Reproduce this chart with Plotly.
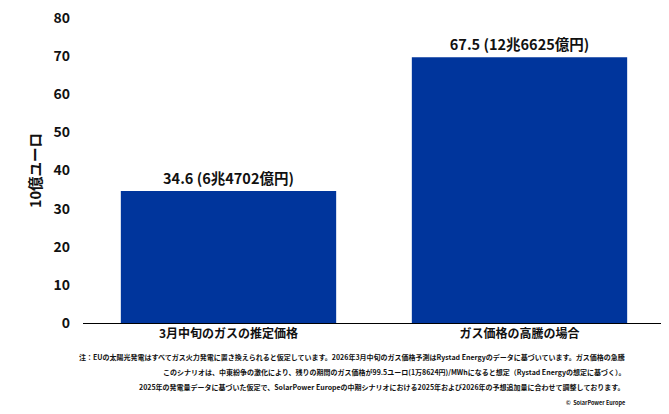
import plotly.graph_objects as go

categories = ["3月中旬のガスの推定価格", "ガス価格の高騰の場合"]
# bar heights (second bar is drawn up to ~69.7 on the axis)
values = [34.6, 69.7]
bar_labels = ["34.6 (6兆4702億円)", "67.5 (12兆6625億円)"]
y_ticks = [0, 10, 20, 30, 40, 50, 60, 70, 80]
y_title = "10億ユーロ"
note_lines = [
    "注：EUの太陽光発電はすべてガス火力発電に置き換えられると仮定しています。2026年3月中旬のガス価格予測はRystad Energyのデータに基づいています。ガス価格の急騰",
    "このシナリオは、中東紛争の激化により、残りの期間のガス価格が99.5ユーロ(1万8624円)/MWhになると想定（Rystad Energyの想定に基づく）。",
    "2025年の発電量データに基づいた仮定で、SolarPower Europeの中期シナリオにおける2025年および2026年の予想追加量に合わせて調整しております。",
]
credit = "©  SolarPower Europe"

FONT = "Noto Sans CJK JP"
BLUE = "#00359C"

# plot area in figure pixels
L, R, T, B = 75, 657, 10, 315
W, H = R - L, B - T

fig = go.Figure()
fig.add_trace(go.Bar(
    x=categories,
    y=values,
    text=bar_labels,
    textposition="outside",
    textfont=dict(family=FONT, size=14.5, color="#111111", weight="bold"),
    marker=dict(color=BLUE, line=dict(width=0)),
    cliponaxis=False,
    hoverinfo="skip",
))

annotations = []
ys = [349, 364, 379]
for line, yp in zip(note_lines, ys):
    annotations.append(dict(
        text=line, xref="paper", yref="paper",
        x=(619 - L) / W, y=(B - yp) / H,
        xanchor="right", yanchor="middle", showarrow=False,
        font=dict(family=FONT, size=7, color="#111111", weight="bold"),
    ))
annotations.append(dict(
    text=credit, xref="paper", yref="paper",
    x=(619 - L) / W, y=(B - 395) / H,
    xanchor="right", yanchor="middle", showarrow=False,
    font=dict(family=FONT, size=5.5, color="#111111", weight="bold"),
))

fig.update_layout(
    width=669, height=414,
    margin=dict(l=L, r=669 - R, t=T, b=414 - B, autoexpand=False),
    paper_bgcolor="white", plot_bgcolor="white",
    showlegend=False,
    bargap=0.26,
    font=dict(family=FONT, color="#111111"),
    annotations=annotations,
    xaxis=dict(
        automargin=False,
        showline=True, linecolor="black", linewidth=1,
        showgrid=False, ticks="",
        tickfont=dict(family=FONT, size=12, color="#111111", weight="bold"),
    ),
    yaxis=dict(
        automargin=False,
        range=[0, 80], tickvals=y_ticks, showgrid=False, zeroline=False,
        showline=False, ticks="",
        ticklabelstandoff=12,
        ticklabeloverflow="allow",
        tickfont=dict(family=FONT, size=14, color="#111111", weight="bold"),
        title=dict(text=y_title, standoff=8,
                   font=dict(family=FONT, size=14.5, color="#111111", weight="bold")),
    ),
)

fig.write_html("out.html")
